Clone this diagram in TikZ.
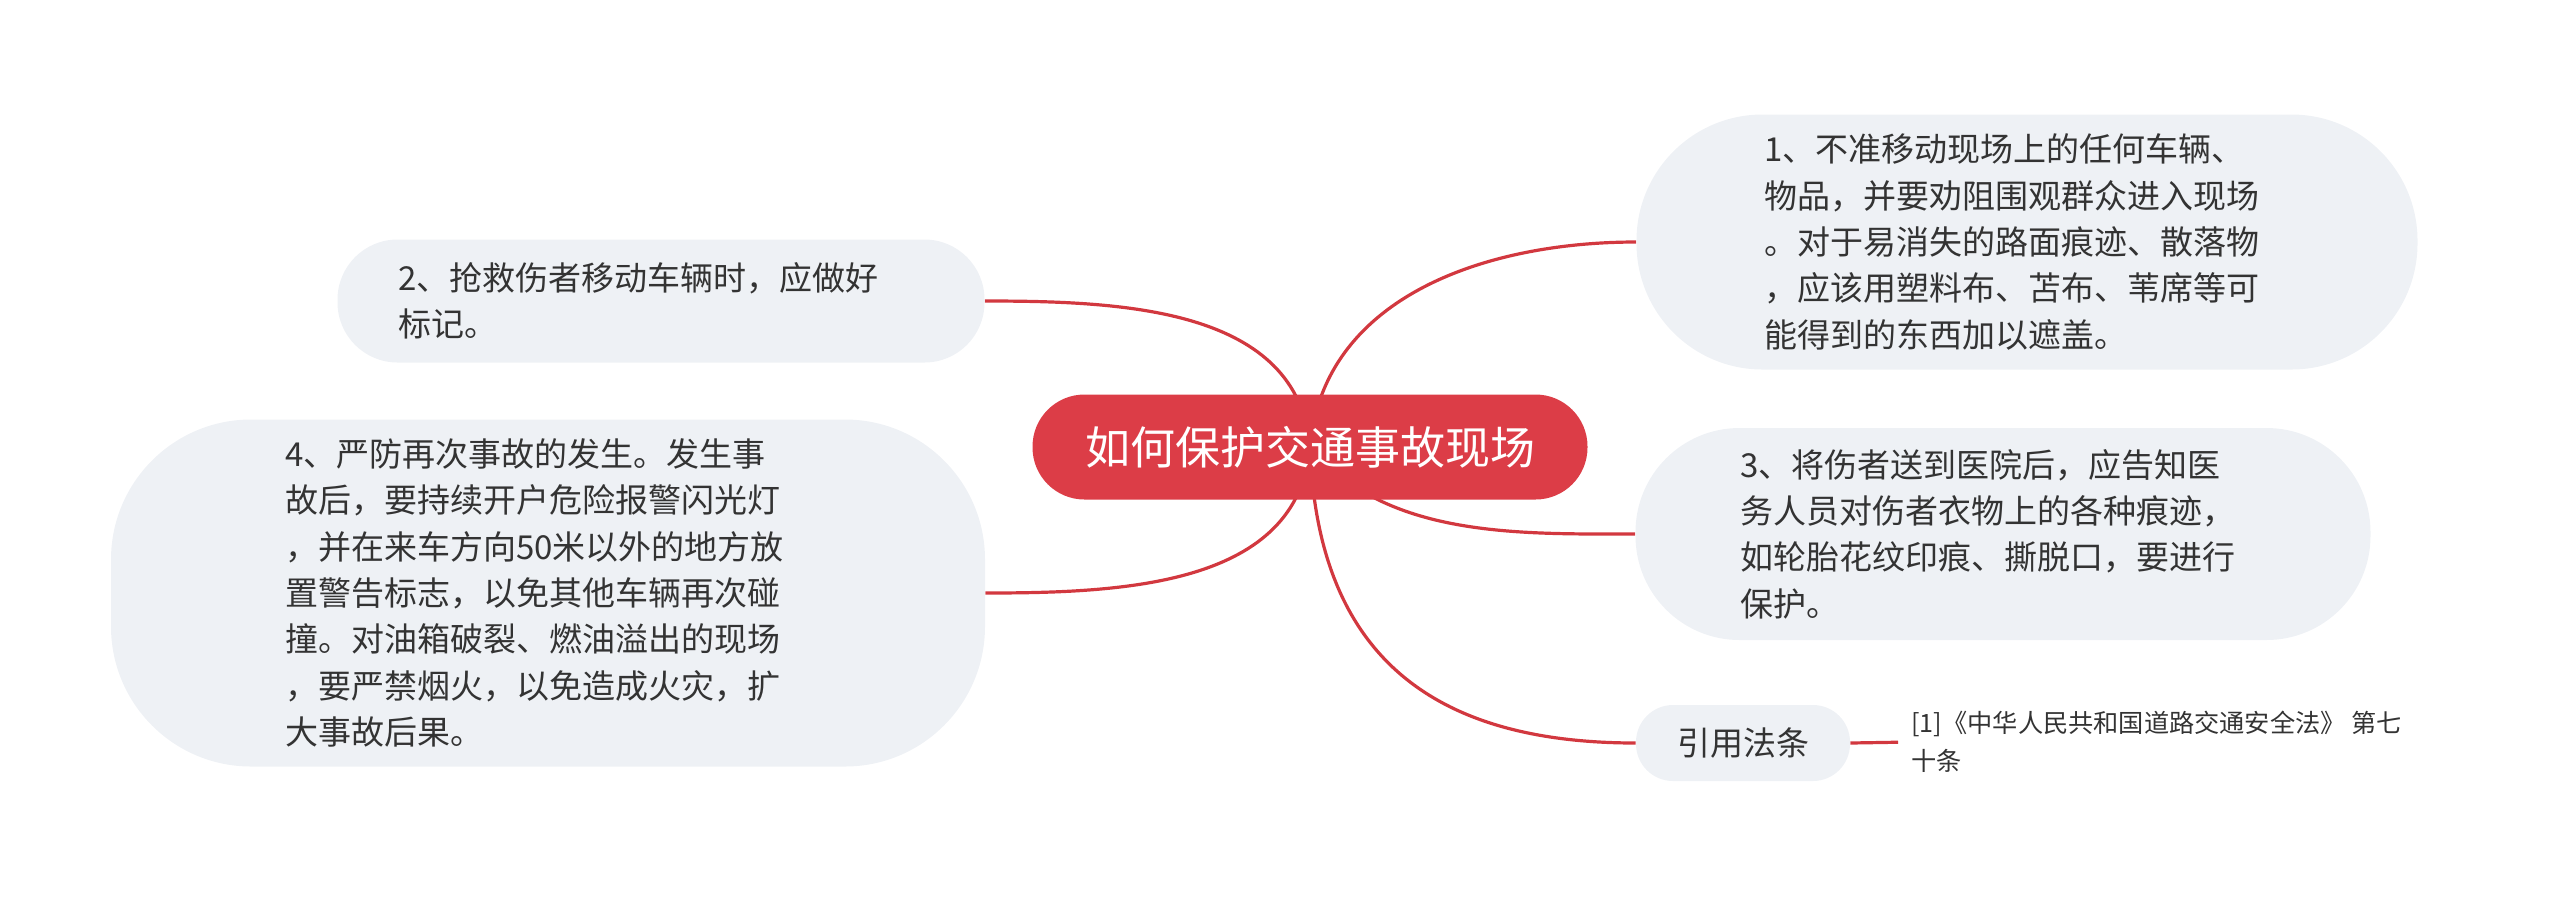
\documentclass[tikz,border=0pt]{standalone}
\usepackage{fontspec}
\setmainfont{Noto Sans CJK SC}
\usetikzlibrary{backgrounds}
\definecolor{rootred}{HTML}{DC3D47}
\definecolor{linkred}{HTML}{D2383F}
\definecolor{topicgray}{HTML}{EEF1F5}
\definecolor{inkgray}{HTML}{333333}

\begin{document}
\begin{tikzpicture}[x=0.5pt,y=0.5pt]
    \useasboundingbox (0,0) rectangle (2560,-902);
    \node[fill=rootred, text=white, font=\fontsize{22.5}{27}\selectfont, rounded corners=26pt,
        minimum width=277.5pt, minimum height=52.5pt, inner sep=0pt] (root) at (1310,-447) {如何保护交通事故现场};
    \begin{scope}[every node/.style={fill=topicgray, text=inkgray, align=left, inner sep=0pt,
            text width=263pt, font=\fontsize{16.5}{23.2}\selectfont}]
        \node[rounded corners=63pt, minimum width=390.5pt, minimum height=127.5pt] (b1) at (2027,-242)
            {1、不准移动现场上的任何车辆、\\物品，并要劝阻围观群众进入现场\\。对于易消失的路面痕迹、散落物\\，应该用塑料布、苫布、苇席等可\\能得到的东西加以遮盖。};
        \node[rounded corners=30pt, minimum width=323.5pt, minimum height=61.5pt] (b2) at (661,-301)
            {2、抢救伤者移动车辆时，应做好\\标记。};
        \node[rounded corners=52pt, minimum width=367.5pt, minimum height=106pt] (b3) at (2003,-534)
            {3、将伤者送到医院后，应告知医\\务人员对伤者衣物上的各种痕迹，\\如轮胎花纹印痕、撕脱口，要进行\\保护。};
        \node[rounded corners=70pt, minimum width=437pt, minimum height=173.5pt] (b4) at (548,-593)
            {4、严防再次事故的发生。发生事\\故后，要持续开户危险报警闪光灯\\，并在来车方向50米以外的地方放\\置警告标志，以免其他车辆再次碰\\撞。对油箱破裂、燃油溢出的现场\\，要严禁烟火，以免造成火灾，扩\\大事故后果。};
        \node[rounded corners=18.5pt, minimum width=107pt, minimum height=38pt, text width=, align=center] (cite) at (1743,-743)
            {引用法条};
    \end{scope}
    \node[anchor=west, inner sep=0pt, align=left, text=inkgray, font=\fontsize{12.6}{19}\selectfont] (law) at (1911,-742)
        {[1]《中华人民共和国道路交通安全法》 第七\\十条};
    \begin{scope}[on background layer, every path/.style={draw=linkred, line width=1.6pt}]
        \path (root.center) to[out=85, in=180] (b1.west);
        \path (root.center) to[out=95, in=0] (b2.east);
        \path (root.center) to[out=-50, in=180, looseness=0.9] (b3.west);
        \path (root.center) to[out=-95, in=0] (b4.east);
        \path (root.center) to[out=-88, in=180, looseness=1.2] (cite.west);
        \path[shorten >=6.5pt] (cite.east) -- (law.west);
    \end{scope}
\end{tikzpicture}
\end{document}
